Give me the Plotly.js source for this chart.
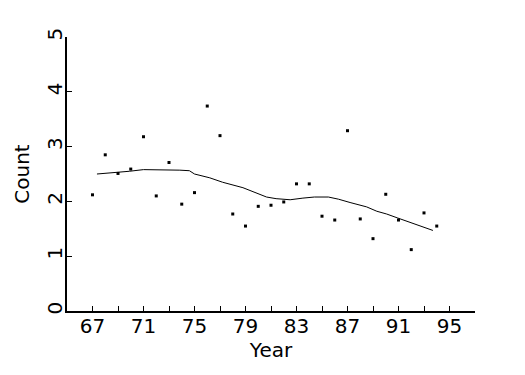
<!DOCTYPE html>
<html>
<head>
<meta charset="utf-8">
<script src="https://cdn.plot.ly/plotly-3.0.1.min.js"></script>
<style>html,body{margin:0;padding:0;background:#fff;}#chart{width:525px;height:375px;}</style>
</head>
<body>
<div id="chart"></div>
<script>
// Observed counts by year
const years = [67,68,69,70,71,72,73,74,75,76,77,78,79,80,81,82,83,84,85,86,87,88,89,90,91,92,93,94];
const counts = [2.12,2.85,2.51,2.59,3.18,2.10,2.71,1.95,2.16,3.74,3.20,1.77,1.55,1.91,1.93,1.99,2.32,2.32,1.73,1.66,3.29,1.68,1.32,2.13,1.66,1.12,1.79,1.55];
// Smoothed trend curve
const smoothX = [67.35,68.5,69.9,71.0,72.3,73.85,74.6,75.0,76.2,77.2,78.8,79.9,80.65,81.4,82.5,83.5,84.4,85.5,86.3,87.2,88.5,89.3,90.07,90.9,91.9,92.95,93.7];
const smoothY = [2.50,2.52,2.55,2.58,2.58,2.57,2.56,2.50,2.43,2.35,2.25,2.15,2.08,2.05,2.03,2.06,2.08,2.08,2.04,1.98,1.90,1.82,1.77,1.70,1.62,1.54,1.47];
// Axis labels
const xTickVals = [67,71,75,79,83,87,91,95];
const yTickVals = [0,1,2,3,4,5];

const fnt = {family: 'DejaVu Sans', size: 20, color: '#000'};

const traces = [
  {x: years, y: counts, type: 'scatter', mode: 'markers',
   marker: {symbol: 'square', size: 3, color: '#000'}, hoverinfo: 'skip'},
  {x: smoothX, y: smoothY, type: 'scatter', mode: 'lines',
   line: {color: '#000', width: 1}, hoverinfo: 'skip'}
];

const layout = {
  width: 525, height: 375,
  margin: {l: 67, r: 50, t: 37, b: 64},
  paper_bgcolor: '#fff', plot_bgcolor: '#fff',
  showlegend: false,
  font: fnt,
  xaxis: {
    range: [65, 97], showgrid: false, zeroline: false,
    showline: true, linecolor: '#000', linewidth: 2,
    tickmode: 'array', tickvals: xTickVals, ticktext: xTickVals.map(String),
    ticks: 'inside', ticklen: 5, tickwidth: 1, tickcolor: '#000',
    ticklabelstandoff: -4,
    minor: {tick0: 65, dtick: 2, ticks: 'inside', ticklen: 5, tickwidth: 1, tickcolor: '#000', showgrid: false},
    tickfont: fnt,
    title: {text: 'Year', font: fnt, standoff: 6}
  },
  yaxis: {
    range: [0, 5], showgrid: false, zeroline: false,
    showline: true, linecolor: '#000', linewidth: 2,
    tickmode: 'array', tickvals: yTickVals, ticktext: yTickVals.map(String),
    ticks: 'inside', ticklen: 5, tickwidth: 1, tickcolor: '#000',
    ticklabelstandoff: -5,
    tickangle: -90,
    tickfont: fnt,
    title: {text: 'Count', font: fnt, standoff: 8}
  }
};

Plotly.newPlot('chart', traces, layout, {displayModeBar: false, staticPlot: true});
</script>
</body>
</html>
